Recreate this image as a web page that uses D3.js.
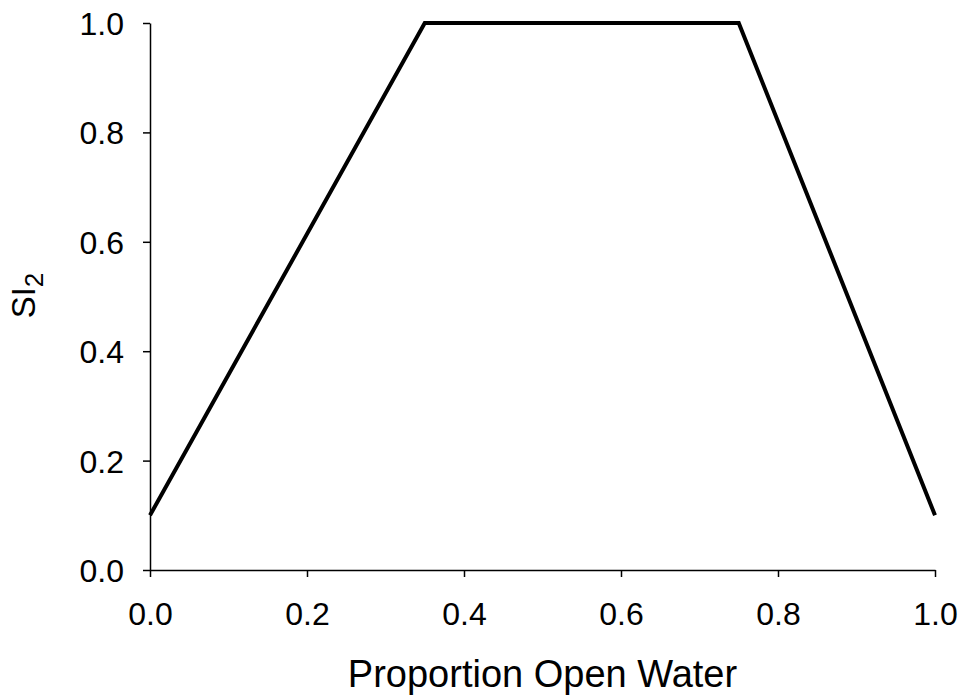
<!DOCTYPE html>
<html>
<head>
<meta charset="utf-8">
<script src="https://cdn.jsdelivr.net/npm/d3@7"></script>
<style>
  body { margin: 0; background: #fff; }
  text { font-family: "Liberation Sans", Arial, sans-serif; }
</style>
</head>
<body>
<svg id="chart" width="961" height="696"></svg>
<script>
const proportion = [0.0, 0.35, 0.75, 1.0];
const si2 = [0.1, 1.0, 1.0, 0.1];
const xTicks = [0, 0.2, 0.4, 0.6, 0.8, 1.0];
const yTicks = [0, 0.2, 0.4, 0.6, 0.8, 1.0];

const margin = { top: 23, right: 26, bottom: 126, left: 150 };
const width = 961 - margin.left - margin.right;
const height = 696 - margin.top - margin.bottom;

const svg = d3.select("#chart");
const g = svg.append("g").attr("transform", `translate(${margin.left},${margin.top})`);

const x = d3.scaleLinear().domain([0, 1]).range([0, width]);
const y = d3.scaleLinear().domain([0, 1]).range([height, 0]);

const xAxis = g.append("g")
  .attr("transform", `translate(0,${height})`)
  .call(d3.axisBottom(x).tickValues(xTicks).tickFormat(d3.format(".1f")).tickSize(7).tickSizeOuter(0));

const yAxis = g.append("g")
  .call(d3.axisLeft(y).tickValues(yTicks).tickFormat(d3.format(".1f")).tickSize(7).tickSizeOuter(0));

[xAxis, yAxis].forEach(ax => {
  ax.attr("font-size", 32).attr("font-family", "'Liberation Sans', Arial, sans-serif");
  ax.selectAll("path, line").attr("stroke", "#000").attr("stroke-width", 1.5);
  ax.selectAll("text").attr("fill", "#000");
});
xAxis.selectAll("text").attr("y", 55).attr("dy", 0);
yAxis.selectAll("text").attr("x", -26).attr("dy", "0.36em");

const line = d3.line()
  .x((d, i) => x(proportion[i]))
  .y(d => y(d));

g.append("path")
  .datum(si2)
  .attr("fill", "none")
  .attr("stroke", "#000")
  .attr("stroke-width", 4)
  .attr("stroke-linejoin", "miter")
  .attr("d", line);

svg.append("text")
  .attr("x", margin.left + width / 2)
  .attr("y", 687)
  .attr("text-anchor", "middle")
  .attr("font-size", 38)
  .text("Proportion Open Water");

const yt = svg.append("text")
  .attr("transform", `translate(35,${margin.top + height / 2 - 1}) rotate(-90)`)
  .attr("text-anchor", "middle")
  .attr("font-size", 33);
yt.append("tspan").text("SI");
yt.append("tspan").attr("dy", 8).attr("font-size", 26).text("2");
</script>
</body>
</html>
